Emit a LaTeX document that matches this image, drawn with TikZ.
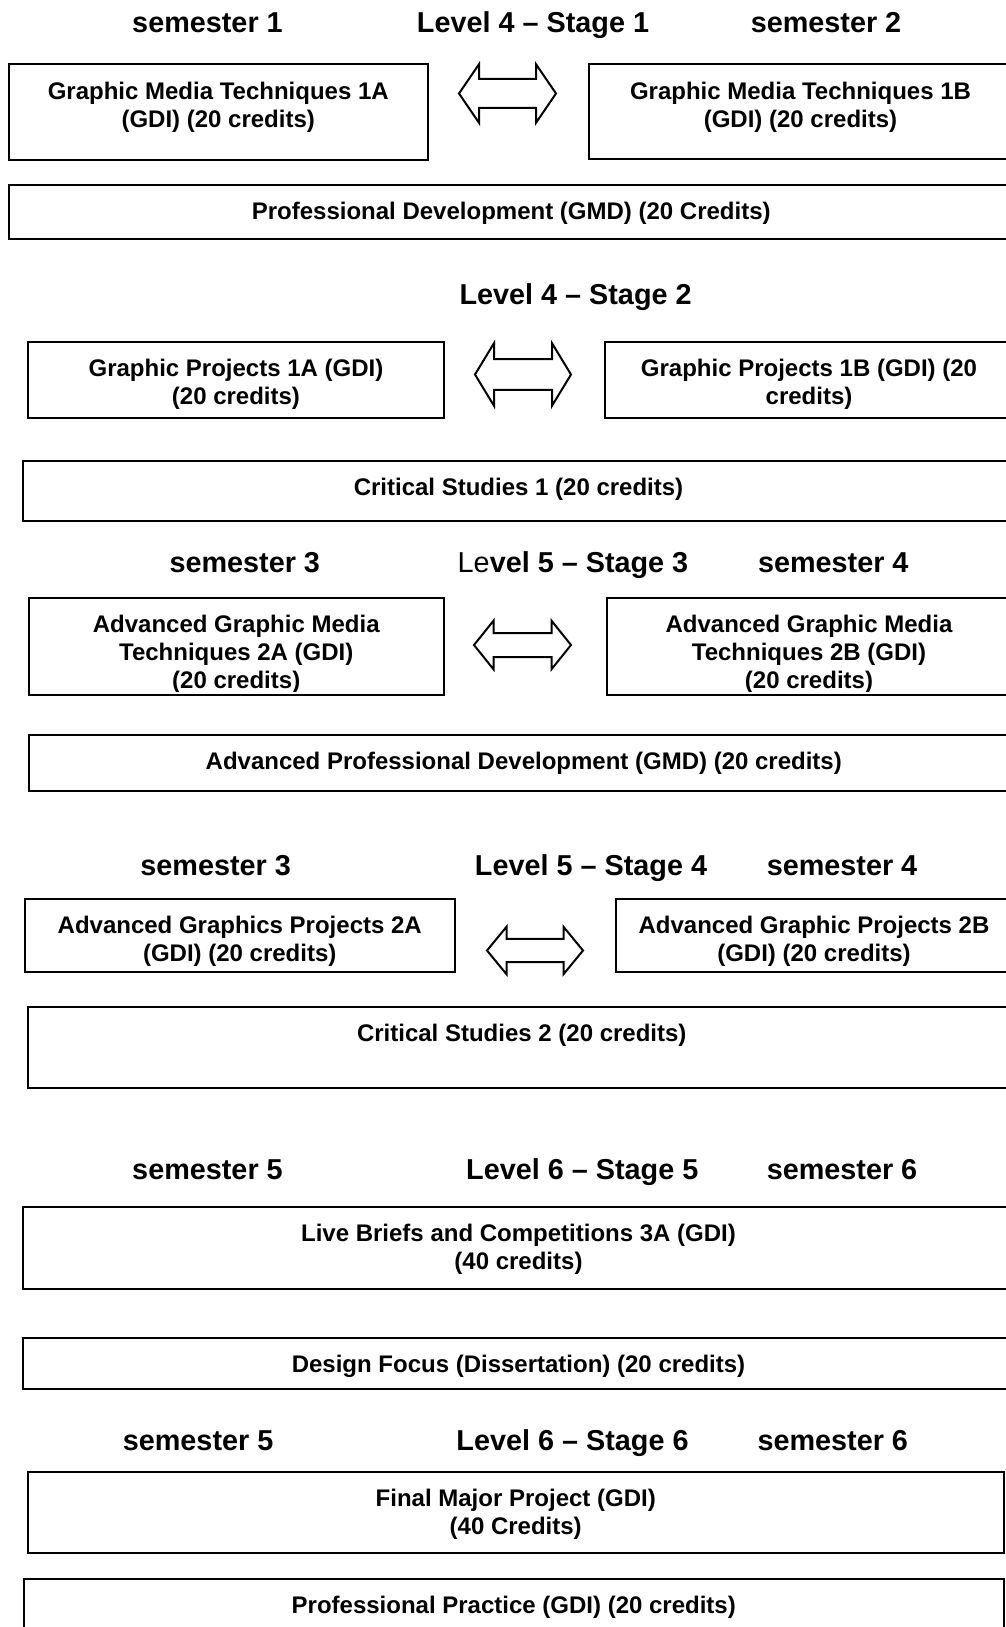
\documentclass[tikz,border=0pt]{standalone}
\usepackage{fontspec}
\setmainfont{Liberation Sans}
\usetikzlibrary{positioning,fit}

\newcommand{\vartop}{9pt}
\newcommand{\varcut}{2.5pt}

% text of a module, cut off a little above the bottom of its box
\newcommand{\boxtext}[3]{%
	\begin{scope}
		\clip (#1.north west) rectangle ([yshift=\varcut]#1.south east);
		\node [modtext, below=\vartop of #1.north] (#2) {#3};
	\end{scope}}

% hollow two-way arrow: left tip, right tip, mid y, half shaft, half head, head length
\newcommand{\twoway}[6]{%
	\draw [arrowline] (#1,#3) -- (#1+#6,#3-#5) -- (#1+#6,#3-#4) -- (#2-#6,#3-#4)
		-- (#2-#6,#3-#5) -- (#2,#3) -- (#2-#6,#3+#5) -- (#2-#6,#3+#4)
		-- (#1+#6,#3+#4) -- (#1+#6,#3+#5) -- cycle;}

\begin{document}
\begin{tikzpicture}[x=0.5pt, y=-0.5pt,
	modbox/.style={draw, line width=1pt, inner sep=0pt, fit={#1}},
	modtext/.style={align=center, inner sep=0pt, font=\bfseries\fontsize{12}{14}\selectfont},
	stagetitle/.style={anchor=base, inner sep=0pt, font=\bfseries\fontsize{14.4}{17}\selectfont},
	arrowline/.style={line width=1pt, line join=miter}]

	\useasboundingbox (0,0) rectangle (1006,1627);
	\clip (0,0) rectangle (1006,1627);

	% level 4 - stage 1
	\node [stagetitle] (semA) at (207.5,33) {semester 1};
	\node [stagetitle] (stageA) at (533,33) {Level 4 -- Stage 1};
	\node [stagetitle] (semB) at (826,33) {semester 2};

	\node [modbox={(8.5,64.5) (428,159.5)}] (gmtA) {};
	\node [modbox={(589,64.5) (1012,159)}] (gmtB) {};
	\node [modbox={(8.5,184.5) (1014,238.5)}] (profDev) {};
	\boxtext{gmtA}{gmtAtext}{Graphic Media Techniques 1A\\(GDI) (20 credits)}
	\boxtext{gmtB}{gmtBtext}{Graphic Media Techniques 1B\\(GDI) (20 credits)}
	\boxtext{profDev}{profDevtext}{Professional Development (GMD) (20 Credits)}
	\twoway{459}{556}{93.5}{14.5}{29.3}{20}

	% level 4 - stage 2
	\node [stagetitle] (stageB) at (575.6,304) {Level 4 -- Stage 2};

	\node [modbox={(28,342) (444,418)}] (gpA) {};
	\node [modbox={(605,342) (1013,418)}] (gpB) {};
	\node [modbox={(23,461) (1014,521)}] (critA) {};
	\boxtext{gpA}{gpAtext}{Graphic Projects 1A (GDI)\\(20 credits)}
	\boxtext{gpB}{gpBtext}{Graphic Projects 1B (GDI) (20\\credits)}
	\boxtext{critA}{critAtext}{Critical Studies 1 (20 credits)}
	\twoway{475}{571}{374.5}{15.3}{31.3}{19}

	% level 5 - stage 3
	\node [stagetitle] (semC) at (244.8,572) {semester 3};
	\node [stagetitle] (stageC) at (573,572) {{\mdseries Le}vel 5 -- Stage 3};
	\node [stagetitle] (semD) at (833.3,572) {semester 4};

	\node [modbox={(28.5,598) (444,695)}] (agmtA) {};
	\node [modbox={(607,598) (1011,695)}] (agmtB) {};
	\node [modbox={(28.5,735) (1019,790.5)}] (advProf) {};
	\boxtext{agmtA}{agmtAtext}{Advanced Graphic Media\\Techniques 2A (GDI)\\(20 credits)}
	\boxtext{agmtB}{agmtBtext}{Advanced Graphic Media\\Techniques 2B (GDI)\\(20 credits)}
	\boxtext{advProf}{advProftext}{Advanced Professional Development (GMD) (20 credits)}
	\twoway{474}{571}{645}{12}{24.3}{19.5}

	% level 5 - stage 4
	\node [stagetitle] (semE) at (215.7,875) {semester 3};
	\node [stagetitle] (stageD) at (591,875) {Level 5 -- Stage 4};
	\node [stagetitle] (semF) at (842,875) {semester 4};

	\node [modbox={(25,899) (454.5,972)}] (agpA) {};
	\node [modbox={(616,899) (1012,972)}] (agpB) {};
	\node [modbox={(27.5,1006.5) (1016,1087.5)}] (critB) {};
	\boxtext{agpA}{agpAtext}{Advanced Graphics Projects 2A\\(GDI) (20 credits)}
	\boxtext{agpB}{agpBtext}{Advanced Graphic Projects 2B\\(GDI) (20 credits)}
	\boxtext{critB}{critBtext}{Critical Studies 2 (20 credits)}
	\twoway{487}{583}{950.5}{11.7}{23.7}{19.5}

	% level 6 - stage 5
	\node [stagetitle] (semG) at (207.5,1179) {semester 5};
	\node [stagetitle] (stageE) at (582.3,1179) {Level 6 -- Stage 5};
	\node [stagetitle] (semH) at (842,1179) {semester 6};

	\node [modbox={(23,1206.5) (1014,1289)}] (live) {};
	\node [modbox={(23,1338) (1014,1388.5)}] (design) {};
	\boxtext{live}{livetext}{Live Briefs and Competitions 3A (GDI)\\(40 credits)}
	\boxtext{design}{designtext}{Design Focus (Dissertation) (20 credits)}

	% level 6 - stage 6
	\node [stagetitle] (semI) at (198.1,1450) {semester 5};
	\node [stagetitle] (stageF) at (572.5,1450) {Level 6 -- Stage 6};
	\node [stagetitle] (semJ) at (832.8,1450) {semester 6};

	\node [modbox={(27.5,1472) (1004,1553)}] (final) {};
	\node [modbox={(23.5,1579) (1004,1640)}] (practice) {};
	\boxtext{final}{finaltext}{Final Major Project (GDI)\\(40 Credits)}
	\boxtext{practice}{practicetext}{Professional Practice (GDI) (20 credits)}
\end{tikzpicture}
\end{document}
